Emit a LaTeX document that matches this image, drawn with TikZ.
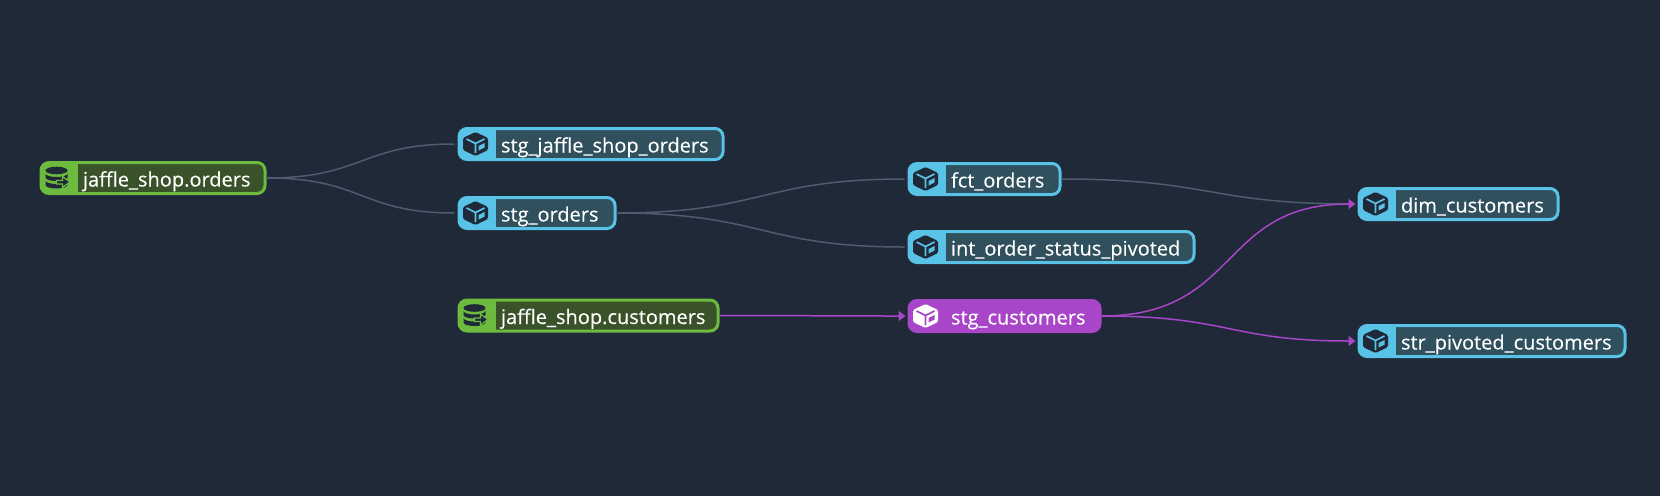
\documentclass[tikz,border=0pt]{standalone}
\usepackage{fontspec}
\setmainfont{Open Sans}[FakeBold=0.25]
\usepackage{xcolor}
\usetikzlibrary{arrows.meta,positioning}

\definecolor{canvasbg}{HTML}{1F2937}
\definecolor{modelblue}{HTML}{58C3E6}
\definecolor{modeltint}{HTML}{2F505C}
\definecolor{sourcegreen}{HTML}{6CBB3E}
\definecolor{sourcetint}{HTML}{3A5229}
\definecolor{runpurple}{HTML}{A845C8}
\definecolor{linkgray}{HTML}{4E5C70}

% #1 body, #2 marks on the body
\newcommand{\cubeicon}[2]{
	\fill[#1, rounded corners=1.5pt] (0,-12) -- (12.5,-6) -- (12.5,6) -- (0,12) -- (-12.5,6) -- (-12.5,-6) -- cycle;
	\draw[#2, line width=1.6pt, line join=round] (-9,-5) -- (0,-.5) -- (9,-5) (0,-.5) -- (0,9);
	\fill[#2] (3,2) -- (9,-1) -- (9,3.5) -- (3,6.5) -- cycle;
}
\newcommand{\dbicon}[2]{
	\fill[#1] (-1,-7.5) ellipse[x radius=11, y radius=3.8];
	\fill[#1] (-12,-4.5) arc[start angle=180, end angle=0, x radius=11, y radius=3.5] -- (10,-.5)
		arc[start angle=0, end angle=180, x radius=11, y radius=3.5] -- cycle;
	\fill[#1] (-12,2.5) arc[start angle=180, end angle=0, x radius=11, y radius=3.5] -- (10,7)
		arc[start angle=0, end angle=180, x radius=11, y radius=3.5] -- cycle;
	\filldraw[fill=#1, draw=#2, line width=1.2pt, line join=miter] (-1,2.5) -- (5,2.5) -- (5,-1.5) -- (12.5,4) -- (5,9.5) -- (5,6) -- (-1,6) -- cycle;
}

\tikzset{
	flownode/.style={rounded corners=8pt, line width=3pt, text=white, inner xsep=0pt, inner ysep=0pt,
		anchor=west, minimum height=31pt, text height=17pt, text depth=0pt, align=left,
		font=\fontsize{20}{22}\selectfont, execute at begin node={\hspace*{42pt}}},
	modelnode/.style={flownode, draw=modelblue, fill=modeltint, text width=#1pt, minimum width=#1pt,
		path picture={
			\fill[modelblue, sharp corners] (path picture bounding box.south west) rectangle ([xshift=36.5pt]path picture bounding box.north west);}},
	sourcenode/.style={flownode, draw=sourcegreen, fill=sourcetint, text width=#1pt, minimum width=#1pt,
		path picture={
			\fill[sourcegreen, sharp corners] (path picture bounding box.south west) rectangle ([xshift=36.5pt]path picture bounding box.north west);}},
	runnode/.style={flownode, draw=runpurple, fill=runpurple, text width=#1pt, minimum width=#1pt},
	graylink/.style={draw=linkgray, line width=1.5pt, out=0, in=180, looseness=1.28, shorten >=3pt},
	runlink/.style={draw=runpurple, line width=1.5pt, out=0, in=180, looseness=1.28, shorten >=2pt,
		-{Triangle[length=7pt,width=10pt]}},
	modelicon/.pic={\cubeicon{canvasbg}{modelblue}},
	runicon/.pic={\cubeicon{white}{runpurple}},
	sourceicon/.pic={\dbicon{canvasbg}{sourcegreen}},
}

\begin{document}
\begin{tikzpicture}[x=1pt, y=-1pt]
	\useasboundingbox[fill=canvasbg] (0,0) rectangle (1660,496);

	\node[sourcenode=224] (orderssrc) at (39.5,178) {jaffle\_shop.orders};
	\node[modelnode=264] (stgjaffle) at (457.5,144) {stg\_jaffle\_shop\_orders};
	\node[modelnode=156] (stgorders) at (457.5,213) {stg\_orders};
	\node[sourcenode=259] (customerssrc) at (457.5,315.5) {jaffle\_shop.customers};
	\node[modelnode=151] (fctorders) at (907.5,179) {fct\_orders};
	\node[modelnode=285] (intstatus) at (907.5,247) {int\_order\_status\_pivoted};
	\node[runnode=191] (stgcustomers) at (907.5,316) {stg\_customers};
	\node[modelnode=199] (dimcustomers) at (1357.5,204) {dim\_customers};
	\node[modelnode=266] (strpivoted) at (1357.5,341) {str\_pivoted\_customers};

	\foreach \n in {stgjaffle,stgorders,fctorders,intstatus,dimcustomers,strpivoted}
		\pic at ([xshift=18pt]\n.west) {modelicon};
	\foreach \n in {orderssrc,customerssrc}
		\pic at ([xshift=18pt]\n.west) {sourceicon};
	\pic at ([xshift=18pt]stgcustomers.west) {runicon};

	\path (orderssrc) edge[graylink] (stgjaffle);
	\path (orderssrc) edge[graylink] (stgorders);
	\path (stgorders) edge[graylink] (fctorders);
	\path (stgorders) edge[graylink] (intstatus);
	\path (fctorders) edge[graylink] (dimcustomers);

	\path (customerssrc) edge[runlink] (stgcustomers);
	\path (stgcustomers) edge[runlink] (dimcustomers);
	\path (stgcustomers) edge[runlink] (strpivoted);
\end{tikzpicture}
\end{document}
